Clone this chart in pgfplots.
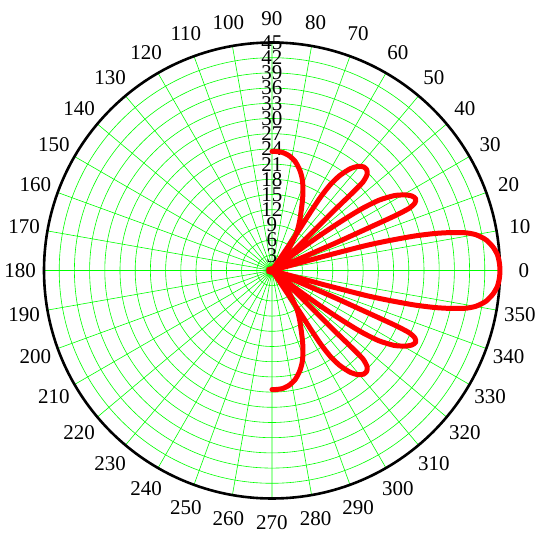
\documentclass[border=0pt]{standalone}
\usepackage{pgfplots}
\pgfplotsset{compat=1.18}
\usepgfplotslibrary{polar}
\usepackage{fontspec}
\setmainfont{Liberation Serif}
\definecolor{gridgreen}{RGB}{0,255,0}
\definecolor{curvered}{RGB}{255,0,0}
\begin{document}
\begin{tikzpicture}
\useasboundingbox (-272pt,-268.5pt) rectangle (278pt,270.5pt);
\begin{polaraxis}[
  at={(0pt,0pt)}, anchor=center,
  scale only axis, width=456pt, height=456pt,
  xmin=0, xmax=360, ymin=0, ymax=45,
  xtick={0,10,...,350}, ytick={3,6,...,45},
  xticklabels={}, yticklabels={},
  grid=major,
  major grid style={draw=gridgreen, line width=0.6pt},
  major tick length=0pt,
  axis line style={black, line width=2.6pt},
  y axis line style={draw=none},
  clip=false,
]
\pgfplotsinvokeforeach{0,10,...,350}{\node[anchor=center, inner sep=0pt, font=\fontsize{21}{24}\selectfont] at (axis cs:#1,49.7) {#1};}
\pgfplotsinvokeforeach{3,6,...,45}{\node[anchor=center, inner sep=0pt, font=\fontsize{21}{24}\selectfont] at (axis cs:90,#1) {#1};}
\addplot[curvered, line width=5pt, line join=round, line cap=round, smooth, tension=0.4] coordinates {
(-90,23.5) (-88,23.5) (-85,23.4) (-81.5,22.9) (-78,22) (-74.6,20.6) (-72,19.2) (-69.7,17.6) (-67,15.5) (-64.2,13.3) (-60.5,11) (-56.8,8.8) (-52,5.1) (-52,0)
(-56,0) (-56,5.5) (-56.3,10) (-56.6,13.5) (-56.5,17.5) (-55.8,20.5) (-54.5,23) (-52.5,25.3) (-50.4,26.7) (-48.5,27.3) (-46.8,27.3) (-45.3,26.7) (-44.2,25) (-44,21.8) (-44,17) (-43.4,10.7) (-41.7,5.1) (-42,0)
(-37.3,0) (-37,5.6) (-36.3,11.3) (-35.7,15) (-35,19.1) (-34.4,22) (-33.3,25.3) (-31.5,28.3) (-29.5,30.3) (-28,31.3) (-26.5,31.7) (-25.3,31.2) (-24.4,29.8) (-24,26.6) (-23.8,20.8) (-23.4,13.5) (-23.2,6) (-23.6,0)
(-15.6,0) (-15.3,10) (-14.9,19) (-14.3,24) (-13.6,29) (-12.8,33) (-12,36) (-11,39) (-10,40.8) (-9,41.9) (-8,42.8) (-6,43.9) (-4,44.6) (-2,44.9) (0,45) (2,44.9) (4,44.6) (6,43.9) (8,42.8) (9,41.9) (10,40.8) (11,39) (12,36) (12.8,33) (13.6,29) (14.3,24) (14.9,19) (15.3,10) (15.6,0)
(23.6,0) (23.2,6) (23.4,13.5) (23.8,20.8) (24,26.6) (24.4,29.8) (25.3,31.2) (26.5,31.7) (28,31.3) (29.5,30.3) (31.5,28.3) (33.3,25.3) (34.4,22) (35,19.1) (35.7,15) (36.3,11.3) (37,5.6) (37.3,0)
(42,0) (41.7,5.1) (43.4,10.7) (44,17) (44,21.8) (44.2,25) (45.3,26.7) (46.8,27.3) (48.5,27.3) (50.4,26.7) (52.5,25.3) (54.5,23) (55.8,20.5) (56.5,17.5) (56.6,13.5) (56.3,10) (56,5.5) (56,0)
(52,0) (52,5.1) (56.8,8.8) (60.5,11) (64.2,13.3) (67,15.5) (69.7,17.6) (72,19.2) (74.6,20.6) (78,22) (81.5,22.9) (85,23.4) (88,23.5) (90,23.5)
};
\end{polaraxis}
\end{tikzpicture}
\end{document}
